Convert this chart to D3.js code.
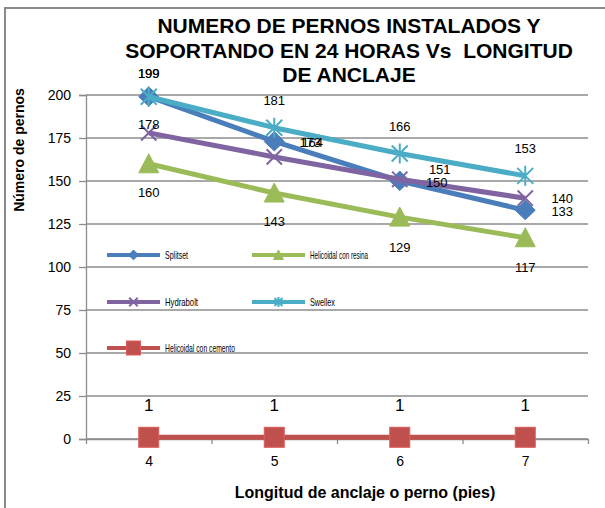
<!DOCTYPE html>
<html>
<head>
<meta charset="utf-8">
<script src="https://cdn.jsdelivr.net/npm/d3@7"></script>
<style>
  html, body { margin: 0; padding: 0; background: #fff; }
  svg { display: block; font-family: Arial, "Liberation Sans", sans-serif; }
</style>
</head>
<body>
<svg id="chart" width="605" height="508"></svg>
<script>
// ---- data ----
const categories = [4, 5, 6, 7];
const seriesNames = ["Splitset", "Helicoidal con resina", "Hydrabolt", "Swellex", "Helicoidal con cemento"];
const splitset = [199, 173, 150, 133];
const helicoidalResina = [160, 143, 129, 117];
const hydrabolt = [178, 164, 151, 140];
const swellex = [199, 181, 166, 153];
const helicoidalCemento = [1, 1, 1, 1];
const yTicks = [0, 25, 50, 75, 100, 125, 150, 175, 200];
const titleLines = ["NUMERO DE PERNOS INSTALADOS Y", "SOPORTANDO EN 24 HORAS Vs  LONGITUD", "DE ANCLAJE"];
const yTitle = "Número de pernos";
const xTitle = "Longitud de anclaje o perno (pies)";

// ---- styling / layout (not data) ----
const colors = ["#4A7EBB", "#9BBB59", "#8064A2", "#4BACC6", "#C0504D"];
const markers = ["diamond", "triangle", "x", "star", "square"];
// label offsets per series per point [dx, dy] relative to point
const labelOffsets = [
  [[0, -23], [36, 1], [37, 1], [37, 1]],
  [[0, 29], [0, 28], [0, 30], [0, 30]],
  [[0, -8], [38, -14], [40, -10], [37, 0]],
  [[0, -23], [0, -27], [0, -27], [0, -27]],
  [[0, -32], [0, -32], [0, -32], [0, -32]]
];
const legendPos = [[107, 255], [252, 255], [107, 302], [252, 302], [107, 348]];
const legendTextLen = [23, 58, 33, 25, 70];

const values = [splitset, helicoidalResina, hydrabolt, swellex, helicoidalCemento];

const svg = d3.select("#chart");
const W = 605, H = 508;
svg.append("rect").attr("width", W).attr("height", H).attr("fill", "#fff");
svg.append("rect").attr("x", 5).attr("y", 8).attr("width", 700).attr("height", 600)
  .attr("fill", "none").attr("stroke", "#8a8a8a").attr("stroke-width", 2);

const plot = { left: 86, right: 588, top: 95, bottom: 439 };
const x = d3.scaleLinear().domain([3.5, 7.5]).range([plot.left, plot.right]);
const y = d3.scaleLinear().domain([0, 200]).range([plot.bottom, plot.top]);

const gridColor = "#8c8c8c";

// gridlines
svg.append("g").selectAll("line").data(yTicks).join("line")
  .attr("x1", plot.left).attr("x2", plot.right)
  .attr("y1", d => y(d)).attr("y2", d => y(d))
  .attr("stroke", gridColor).attr("stroke-width", 1.3);

// y axis
const yAxis = svg.append("g").attr("transform", `translate(${plot.left},0)`)
  .call(d3.axisLeft(y).tickValues(yTicks).tickSize(7).tickPadding(8));
yAxis.select(".domain").attr("stroke", gridColor).attr("stroke-width", 1.3);
yAxis.selectAll(".tick line").attr("stroke", gridColor).attr("stroke-width", 1.3);
yAxis.selectAll(".tick text").attr("font-size", 14).attr("fill", "#000")
  .attr("font-family", "Arial, 'Liberation Sans', sans-serif");

// x axis: boundary ticks
const xAxisB = svg.append("g").attr("transform", `translate(0,${plot.bottom})`)
  .call(d3.axisBottom(x).tickValues([3.5, 4.5, 5.5, 6.5, 7.5]).tickSize(5).tickSizeOuter(0).tickFormat(""));
xAxisB.select(".domain").attr("stroke", gridColor).attr("stroke-width", 1.3);
xAxisB.selectAll(".tick line").attr("stroke", gridColor).attr("stroke-width", 1.3);
// x labels
const xAxisL = svg.append("g").attr("transform", `translate(0,${plot.bottom})`)
  .call(d3.axisBottom(x).tickValues(categories).tickSize(0).tickPadding(17).tickFormat(d3.format("d")));
xAxisL.select(".domain").remove();
xAxisL.selectAll(".tick text").attr("font-size", 14).attr("fill", "#000")
  .attr("font-family", "Arial, 'Liberation Sans', sans-serif");

// marker drawing
function drawMarker(g, type, color, s) {
  if (type === "diamond") {
    g.append("path").attr("d", `M0,${-s}L${s},0L0,${s * 0.95}L${-s},0Z`).attr("fill", color)
      .attr("stroke", color).attr("stroke-width", 1);
  } else if (type === "triangle") {
    g.append("path").attr("d", `M0,${-s}L${s},${s * 0.9}L${-s},${s * 0.9}Z`).attr("fill", color)
      .attr("stroke", color).attr("stroke-width", 1);
  } else if (type === "square") {
    g.append("rect").attr("x", -s).attr("y", -s).attr("width", 2 * s).attr("height", 2 * s)
      .attr("fill", color).attr("stroke", d3.color(color).brighter(0.4)).attr("stroke-width", 1);
  } else if (type === "x") {
    const k = s * 0.85;
    g.append("path").attr("d", `M${-k},${-k}L${k},${k}M${-k},${k}L${k},${-k}`)
      .attr("stroke", color).attr("stroke-width", 2).attr("fill", "none");
  } else if (type === "star") {
    const k = s * 0.8;
    g.append("path").attr("d", `M${-k},${-k}L${k},${k}M${-k},${k}L${k},${-k}M0,${-s}L0,${s}`)
      .attr("stroke", color).attr("stroke-width", 2).attr("fill", "none");
  }
}

const markerSize = [10, 10, 9, 10, 10];
const line = d3.line().x((d, i) => x(categories[i])).y(d => y(d));

values.forEach((vals, si) => {
  const g = svg.append("g");
  g.append("path").datum(vals).attr("d", line).attr("fill", "none")
    .attr("stroke", colors[si]).attr("stroke-width", 5).attr("stroke-linejoin", "round");
  vals.forEach((v, i) => {
    const mg = g.append("g").attr("transform", `translate(${x(categories[i])},${y(v)})`);
    drawMarker(mg, markers[si], colors[si], markerSize[si]);
  });
});

// data labels
values.forEach((vals, si) => {
  vals.forEach((v, i) => {
    const off = labelOffsets[si][i];
    svg.append("text")
      .attr("x", x(categories[i]) + off[0])
      .attr("y", y(v) + off[1])
      .attr("dy", "0.35em")
      .attr("text-anchor", "middle")
      .attr("font-size", si === 4 ? 17 : 13)
      .attr("fill", "#000")
      .text(v);
  });
});

// legend
seriesNames.forEach((name, si) => {
  const [lx, ly] = legendPos[si];
  const g = svg.append("g");
  g.append("line").attr("x1", lx).attr("x2", lx + 53).attr("y1", ly).attr("y2", ly)
    .attr("stroke", colors[si]).attr("stroke-width", 4);
  const mg = g.append("g").attr("transform", `translate(${lx + 26.5},${ly})`);
  drawMarker(mg, markers[si], colors[si], si === 4 ? 7 : 5);
  g.append("text").attr("x", lx + 58).attr("y", ly + 4).attr("font-size", 11)
    .attr("textLength", legendTextLen[si]).attr("lengthAdjust", "spacingAndGlyphs")
    .attr("fill", "#000").text(name);
});

// title
svg.append("g").selectAll("text").data(titleLines).join("text")
  .attr("x", 349).attr("y", (d, i) => [33, 57.5, 82][i])
  .attr("text-anchor", "middle").attr("font-size", 21).attr("font-weight", "bold")
  .style("white-space", "pre")
  .attr("fill", "#000").text(d => d);

// axis titles
svg.append("text").attr("transform", "translate(24,150) rotate(-90)")
  .attr("text-anchor", "middle").attr("font-size", 14).attr("font-weight", "bold")
  .attr("fill", "#000").text(yTitle);
svg.append("text").attr("x", 365).attr("y", 498)
  .attr("text-anchor", "middle").attr("font-size", 16).attr("font-weight", "bold")
  .attr("fill", "#000").text(xTitle);
</script>
</body>
</html>
